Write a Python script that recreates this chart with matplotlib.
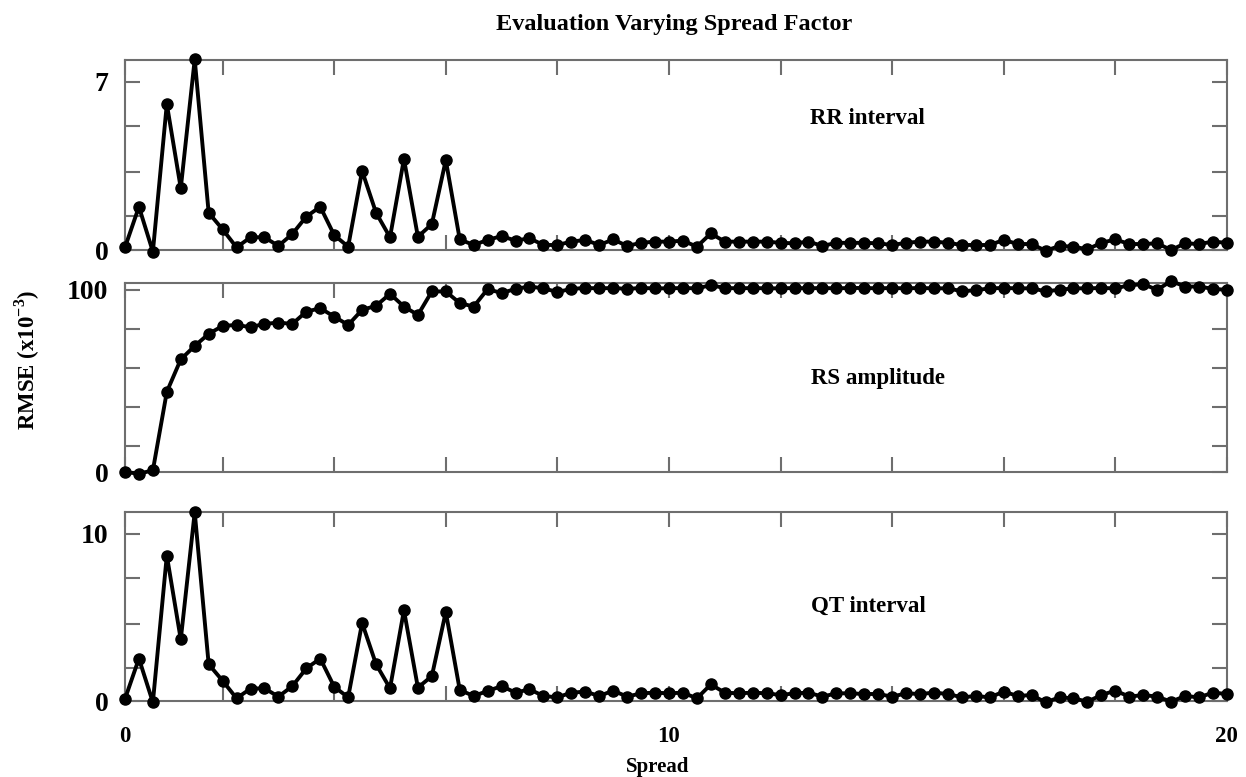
import numpy as np
import matplotlib
matplotlib.use('Agg')
import matplotlib.pyplot as plt

plt.rcParams['font.family'] = ['Liberation Serif', 'DejaVu Serif']
plt.rcParams['font.weight'] = 'bold'
plt.rcParams['mathtext.fontset'] = 'custom'
plt.rcParams['mathtext.rm'] = 'Liberation Serif:bold'
plt.rcParams['mathtext.bf'] = 'Liberation Serif:bold'

# spread values (80 steps of 0.25)
spread = np.arange(1, 81) * 0.25

# RMSE curves (x10^-3)
rr_interval = [0.11, 1.8, -0.07, 6.07, 2.57, 7.93, 1.55, 0.86, 0.11, 0.53,
               0.53, 0.17, 0.67, 1.39, 1.8, 0.62, 0.14, 3.29, 1.55, 0.53,
               3.79, 0.55, 1.08, 3.74, 0.44, 0.21, 0.42, 0.58, 0.39, 0.49,
               0.21, 0.21, 0.35, 0.42, 0.21, 0.44, 0.17, 0.30, 0.35, 0.35,
               0.39, 0.14, 0.69, 0.35, 0.35, 0.35, 0.35, 0.30, 0.28, 0.35,
               0.17, 0.30, 0.30, 0.30, 0.28, 0.21, 0.30, 0.35, 0.35, 0.30,
               0.21, 0.21, 0.21, 0.42, 0.25, 0.25, -0.03, 0.17, 0.14, 0.03,
               0.30, 0.44, 0.25, 0.25, 0.28, 0.0, 0.28, 0.25, 0.35, 0.30]

rs_amplitude = [0, -0.9, 0.9, 44, 61.8, 69.2, 75.8, 80.2, 80.7, 79.5,
                81.3, 82, 81.3, 88, 89.9, 85.3, 80.7, 89, 91.2, 97.8,
                90.8, 86.2, 99.1, 99.1, 92.7, 90.8, 100.4, 98.2, 100.5, 101.8,
                100.8, 98.8, 100.5, 101, 100.8, 101, 100.5, 101, 100.8, 100.8,
                101, 100.8, 102.5, 101, 100.8, 101, 100.8, 100.8, 101, 100.8,
                101, 100.8, 101, 101, 100.8, 101, 100.8, 101, 100.8, 100.8,
                99.2, 99.8, 100.8, 101, 100.8, 100.8, 99.2, 100, 100.8, 100.8,
                101, 100.8, 102.5, 103.1, 100, 104.8, 101.8, 101.8, 100.5, 100]

qt_interval = [0.12, 2.54, -0.08, 8.7, 3.68, 11.29, 2.2, 1.21, 0.16, 0.74,
               0.76, 0.26, 0.89, 1.95, 2.54, 0.85, 0.22, 4.67, 2.2, 0.76,
               5.43, 0.8, 1.49, 5.33, 0.66, 0.3, 0.60, 0.89, 0.50, 0.70,
               0.30, 0.22, 0.50, 0.56, 0.30, 0.62, 0.26, 0.46, 0.50, 0.46,
               0.50, 0.16, 0.99, 0.50, 0.46, 0.50, 0.46, 0.36, 0.46, 0.50,
               0.26, 0.46, 0.46, 0.42, 0.42, 0.26, 0.46, 0.42, 0.50, 0.42,
               0.22, 0.30, 0.22, 0.56, 0.30, 0.36, -0.08, 0.22, 0.16, -0.04,
               0.36, 0.62, 0.26, 0.36, 0.26, -0.04, 0.30, 0.22, 0.50, 0.42]

panels = [
    (rr_interval, 'RR interval', 7.9, [0, 1.4, 3.25, 5.15, 7], ['0', '', '', '', '7']),
    (rs_amplitude, 'RS amplitude', 103.7, [0, 14.1, 35.8, 56.9, 78.5, 100], ['0', '', '', '', '', '100']),
    (qt_interval, 'QT interval', 11.3, [0, 1.95, 4.63, 7.35, 10], ['0', '', '', '', '10']),
]

fig = plt.figure(figsize=(12.46, 7.77), dpi=100)

# axes boxes in figure fractions (left, bottom, width, height)
boxes = [(0.1003, 0.6782, 0.8844, 0.2445),
         (0.1003, 0.3925, 0.8844, 0.2432),
         (0.1003, 0.0978, 0.8844, 0.2432)]
label_pos = [(0.696, 0.848), (0.705, 0.5135), (0.697, 0.220)]

spine_col = '#6e6e6e'
xt = [0.25, 2, 4, 6, 8, 10, 12, 14, 16, 18, 20]

for i, (vals, name, top, yt, ylab) in enumerate(panels):
    ax = fig.add_axes(boxes[i])
    ax.plot(spread, vals, color='black', lw=2.8, marker='o', ms=8, clip_on=False, zorder=3)
    ax.set_xlim(0.25, 20)
    ax.set_ylim(0, top)
    for s in ax.spines.values():
        s.set_color(spine_col)
        s.set_linewidth(1.5)
    ax.set_yticks(yt, labels=ylab)
    if i == 2:
        xl = ['0' if v == 0.25 else ('10' if v == 10 else ('20' if v == 20 else '')) for v in xt]
        ax.set_xticks(xt, labels=xl)
    else:
        ax.set_xticks(xt, labels=[''] * len(xt))
    ax.tick_params(axis='both', direction='in', length=11, width=1.5, color=spine_col,
                   top=True, right=True, labelsize=16.5)
    ax.tick_params(axis='y', pad=12, labelsize=20)
    ax.tick_params(axis='x', pad=18)
    fig.text(label_pos[i][0], label_pos[i][1], name, ha='center', va='center',
             fontsize=16.5, fontweight='bold')

fig.text(0.541, 0.961, 'Evaluation Varying Spread Factor', ha='center', va='baseline',
         fontsize=17.5, fontweight='bold')
fig.text(0.528, 0.006, 'Spread', ha='center', va='baseline', fontsize=15, fontweight='bold')
fig.text(0.022, 0.537, 'RMSE (x10$^{-3}$)', ha='center', va='center', rotation=90,
         fontsize=16.5, fontweight='bold')

plt.savefig('out.png', dpi=100)
